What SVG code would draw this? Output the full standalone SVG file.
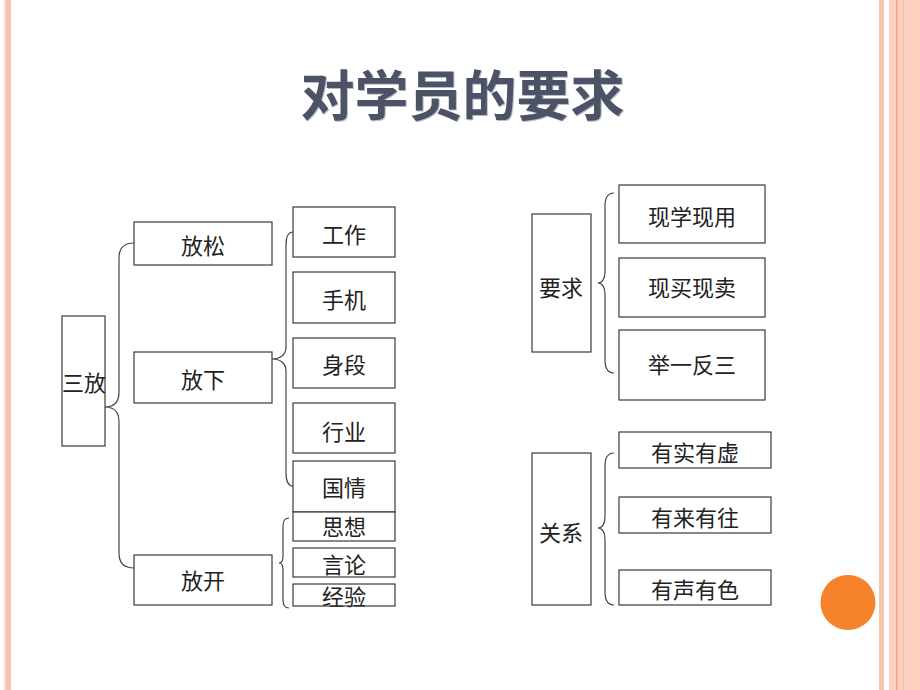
<svg xmlns="http://www.w3.org/2000/svg" width="920" height="690" viewBox="0 0 920 690">
<style>
.box{fill:#fff;stroke:#3a3a3a;stroke-width:1.2}
.t{font-family:"Noto Sans CJK SC","Liberation Sans",sans-serif;font-size:22px;fill:#222;text-anchor:middle}
.br{fill:none;stroke:#444;stroke-width:1.2}
.title{font-family:"Noto Sans CJK SC","Liberation Sans",sans-serif;font-size:54px;font-weight:bold;text-anchor:middle}
</style>
<rect width="920" height="690" fill="#fff"/>
<!-- borders -->
<rect x="4" y="0" width="2" height="690" fill="#fbd8c8"/>
<rect x="6" y="0" width="5" height="690" fill="#f8c2b2"/>
<rect x="879" y="0" width="5" height="690" fill="#f8c4b2"/>
<rect x="889" y="0" width="31" height="690" fill="#fbd0be"/>
<rect x="896" y="0" width="1.5" height="690" fill="#f5a27e"/>
<rect x="903" y="0" width="1" height="690" fill="#f8bca6"/>
<circle cx="848" cy="602.5" r="27.5" fill="#f6822c"/>
<!-- title -->
<text class="title" x="463.5" y="116.5" fill="#b8bcc6">对学员的要求</text>
<text class="title" x="462.5" y="115.5" fill="#4d5366">对学员的要求</text>
<g id="connectors">
<path class="br" d="M134,243 C124,243 119,248 119,258 L119,392 C119,402 114,407 105,407 C114,407 119,412 119,422 L119,553 C119,563 124,568 134,568"/>
<path class="br" d="M293,232 C288,232 286,237 286,245 L286,347 C286,355 280,359 272,359 C280,359 286,363 286,371 L286,473 C286,481 288,486 293,486"/>
<path class="br" d="M289,518 C285,518 283,521 283,526 L283,556 C283,561 281,563 279,563 C281,563 283,565 283,570 L283,600 C283,605 285,608 289,608"/>
<path class="br" d="M614,193 C608,193 605,198 605,206 L605,272 C605,279 602,283 598,283 C602,283 605,287 605,294 L605,360 C605,368 608,373 614,373"/>
<path class="br" d="M614,453 C608,453 605,458 605,466 L605,517 C605,524 602,528 598,528 C602,528 605,532 605,539 L605,592 C605,600 608,605 614,605"/>
</g>
<g id="n-sanfang"><rect class="box" x="62" y="316" width="43" height="130"/><text class="t" x="84" y="391">三放</text></g>
<g id="n-fangsong"><rect class="box" x="134" y="222" width="138" height="43"/><text class="t" x="203" y="254">放松</text></g>
<g id="n-fangxia"><rect class="box" x="134" y="352" width="138" height="51"/><text class="t" x="203" y="388">放下</text></g>
<g id="n-fangkai"><rect class="box" x="134" y="555" width="138" height="50"/><text class="t" x="203" y="589">放开</text></g>
<g id="n-gongzuo"><rect class="box" x="293" y="207" width="102" height="50"/><text class="t" x="344" y="243">工作</text></g>
<g id="n-shouji"><rect class="box" x="293" y="272" width="102" height="51"/><text class="t" x="344" y="308">手机</text></g>
<g id="n-shenduan"><rect class="box" x="293" y="338" width="102" height="50"/><text class="t" x="344" y="373">身段</text></g>
<g id="n-hangye"><rect class="box" x="293" y="403" width="102" height="50"/><text class="t" x="344" y="440">行业</text></g>
<g id="n-guoqing"><rect class="box" x="293" y="461" width="102" height="51"/><text class="t" x="344" y="496">国情</text></g>
<g id="n-sixiang"><rect class="box" x="293" y="512" width="102" height="29"/><text class="t" x="344" y="535">思想</text></g>
<g id="n-yanlun"><rect class="box" x="293" y="548" width="102" height="29"/><text class="t" x="344" y="573">言论</text></g>
<g id="n-jingyan"><text class="t" x="344" y="605">经验</text><rect class="box" x="293" y="584" width="102" height="22" fill="none" style="fill:none"/></g>
<g id="n-yaoqiu"><rect class="box" x="532" y="214" width="59" height="138"/><text class="t" x="561" y="296">要求</text></g>
<g id="n-xxxy"><rect class="box" x="619" y="185" width="146" height="58"/><text class="t" x="692" y="225">现学现用</text></g>
<g id="n-xmxm"><rect class="box" x="619" y="258" width="146" height="59"/><text class="t" x="692" y="296">现买现卖</text></g>
<g id="n-jyfs"><rect class="box" x="619" y="330" width="146" height="70"/><text class="t" x="692" y="373">举一反三</text></g>
<g id="n-guanxi"><rect class="box" x="532" y="453" width="59" height="152"/><text class="t" x="561" y="541">关系</text></g>
<g id="n-ysyx"><rect class="box" x="619" y="432" width="152" height="36"/><text class="t" x="695" y="461">有实有虚</text></g>
<g id="n-ylyw"><rect class="box" x="619" y="497" width="152" height="36"/><text class="t" x="695" y="526">有来有往</text></g>
<g id="n-ysys"><rect class="box" x="619" y="570" width="152" height="35"/><text class="t" x="695" y="598">有声有色</text></g>
</svg>
